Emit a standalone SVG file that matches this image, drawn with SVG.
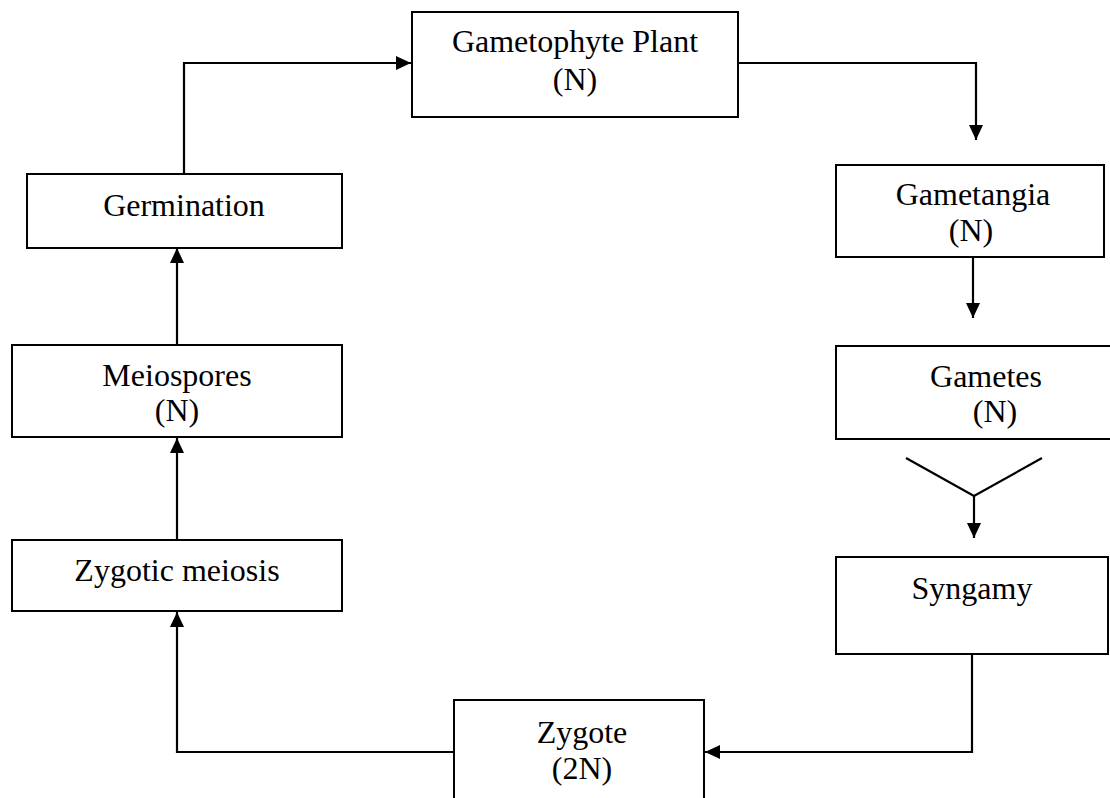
<svg xmlns="http://www.w3.org/2000/svg" width="1110" height="798" viewBox="0 0 1110 798">
<defs>
<style>
.box{fill:#fff;stroke:#000;stroke-width:2}
.t{font-family:"Liberation Serif","Times New Roman",serif;font-size:32px;fill:#000;text-anchor:middle}
.c{fill:none;stroke:#000;stroke-width:2.2}
</style>
<marker id="ah" viewBox="0 0 15 14" refX="15" refY="7" markerWidth="15" markerHeight="14" markerUnits="userSpaceOnUse" orient="auto">
<path d="M0,0 L15,7 L0,14 z" fill="#000"/>
</marker>
</defs>
<rect width="1110" height="798" fill="#fff"/>
<g id="connectors">
<path class="c" d="M184,174 V63 H411" marker-end="url(#ah)"/>
<path class="c" d="M738,63 H976 V140" marker-end="url(#ah)"/>
<path class="c" d="M973,258 V318" marker-end="url(#ah)"/>
<path class="c" d="M906,458 L974,496 L1042,458"/>
<path class="c" d="M974,496 V538" marker-end="url(#ah)"/>
<path class="c" d="M972,654 V752 H705" marker-end="url(#ah)"/>
<path class="c" d="M454,752 H177 V612" marker-end="url(#ah)"/>
<path class="c" d="M177,540 V438" marker-end="url(#ah)"/>
<path class="c" d="M177,345 V248" marker-end="url(#ah)"/>
</g>
<g id="gametophyte">
<rect class="box" x="412" y="12" width="326" height="105"/>
<text class="t" x="575" y="52">Gametophyte Plant</text>
<text class="t" x="575" y="90">(N)</text>
</g>
<g id="gametangia">
<rect class="box" x="836" y="165" width="268" height="92"/>
<text class="t" x="973" y="205">Gametangia</text>
<text class="t" x="971" y="241">(N)</text>
</g>
<g id="gametes">
<rect class="box" x="836" y="346" width="280" height="93"/>
<text class="t" x="986" y="387">Gametes</text>
<text class="t" x="995" y="422">(N)</text>
</g>
<g id="syngamy">
<rect class="box" x="836" y="557" width="272" height="97"/>
<text class="t" x="972" y="599">Syngamy</text>
</g>
<g id="zygote">
<rect class="box" x="454" y="700" width="250" height="110"/>
<text class="t" x="582" y="743">Zygote</text>
<text class="t" x="582" y="779">(2N)</text>
</g>
<g id="zygotic-meiosis">
<rect class="box" x="12" y="540" width="330" height="71"/>
<text class="t" x="177" y="581">Zygotic meiosis</text>
</g>
<g id="meiospores">
<rect class="box" x="12" y="345" width="330" height="92"/>
<text class="t" x="177" y="386">Meiospores</text>
<text class="t" x="177" y="421">(N)</text>
</g>
<g id="germination">
<rect class="box" x="27" y="174" width="315" height="74"/>
<text class="t" x="184" y="216">Germination</text>
</g>
</svg>
